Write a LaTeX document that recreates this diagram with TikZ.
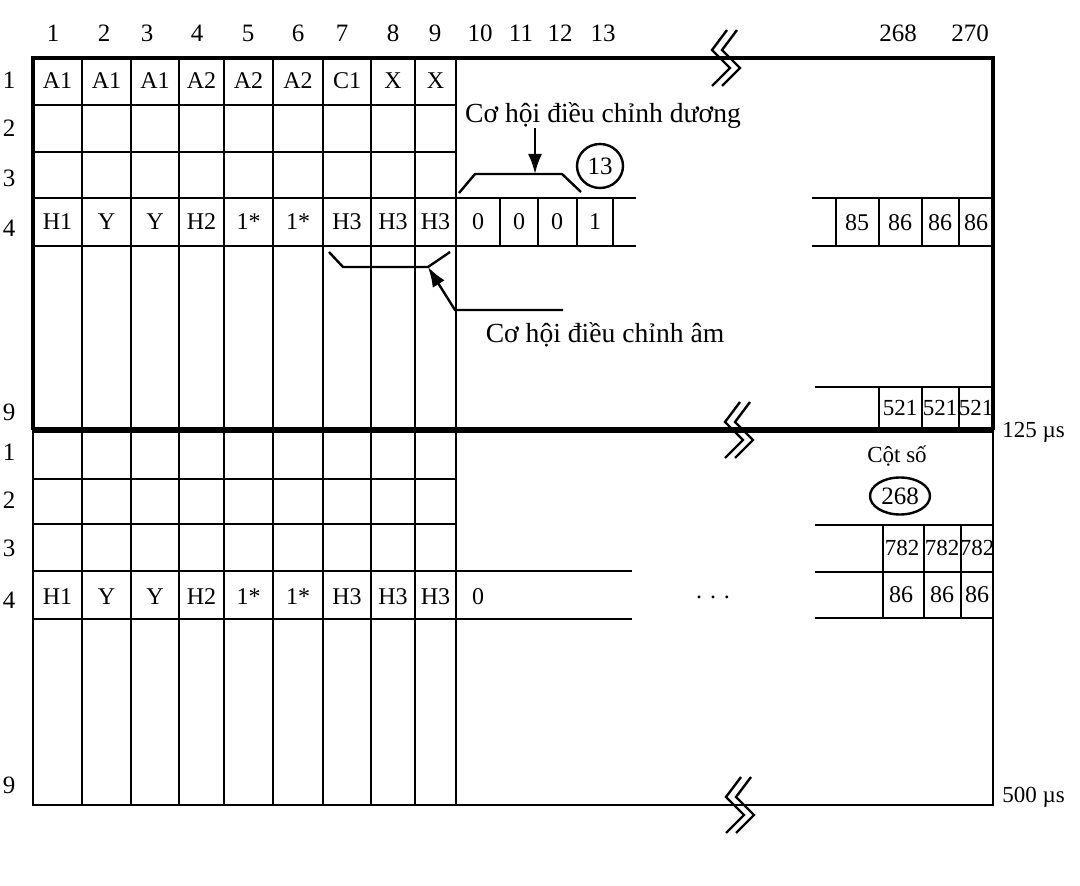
\documentclass[tikz,border=0pt]{standalone}
\usepackage{fontspec}
\setmainfont{Liberation Serif}
\usetikzlibrary{shapes.geometric, arrows.meta}
\tikzstyle{celltxt} = [inner sep=0pt, font=\fontsize{12}{14}\selectfont]
\tikzstyle{numtxt} = [inner sep=0pt, font=\fontsize{12.5}{15}\selectfont]
\tikzstyle{smalltxt} = [inner sep=0pt, font=\fontsize{11.5}{13}\selectfont]
\tikzstyle{notetxt} = [inner sep=0pt, font=\fontsize{13.8}{16}\selectfont]
\tikzstyle{ruleline} = [line width=1.2pt]
\tikzstyle{frameline} = [line width=1.8pt]
\tikzstyle{lowframe} = [line width=1.4pt]
\tikzstyle{midline} = [line width=2.8pt]
\tikzstyle{pointer} = [line width=1.2pt, -{Latex[length=10pt, width=7pt]}]
\tikzstyle{ring} = [ellipse, draw, line width=1.2pt, inner sep=0pt, font=\fontsize{12.5}{15}\selectfont]
\newcommand{\brkmark}[1]{\draw[ruleline, shift={#1}] (1,-28) -- (-14,-8) -- (4,10) -- (-14,28) (11,-28) -- (-4,-8) -- (14,10) -- (-4,28);}

\begin{document}
\begin{tikzpicture}[x=0.5pt, y=-0.5pt]
            \useasboundingbox (0,0) rectangle (1080,886);

            \foreach \x in {82,131,179,224,273,323,371,415,456} \draw[ruleline] (\x,58) -- (\x,805);
            \foreach \y in {105,152,479,524} \draw[ruleline] (33,\y) -- (456,\y);
            \foreach \y in {198,246} \draw[ruleline] (33,\y) -- (636,\y);
            \foreach \y in {571,619} \draw[ruleline] (33,\y) -- (632,\y);
            \foreach \x in {500,538,577,613} \draw[ruleline] (\x,198) -- (\x,246);
            \foreach \y in {198,246} \draw[ruleline] (812,\y) -- (993,\y);
            \foreach \x in {836,879,922,959} \draw[ruleline] (\x,198) -- (\x,246);
            \draw[ruleline] (815,387) -- (993,387);
            \foreach \x in {879,922,959} \draw[ruleline] (\x,387) -- (\x,430);
            \foreach \y in {525,572,618} \draw[ruleline] (815,\y) -- (993,\y);
            \foreach \x in {883,924,961} \draw[ruleline] (\x,525) -- (\x,618);

            \draw[frameline] (33,430) -- (33,58) -- (993,58) -- (993,430);
            \draw[lowframe] (33,430) -- (33,805) -- (993,805) -- (993,430);
            \draw[midline] (33,430) -- (993,430);

            \brkmark{(726,58)}
            \brkmark{(739,430)}
            \brkmark{(740,805)}

            \foreach \x/\n in {53/1,104/2,147/3,197/4,248/5,298/6,342/7,393/8,435/9,480/10,521/11,560/12,603/13,898/268,970/270}
                \node[numtxt] (c\n) at (\x,33) {\n};
            \foreach \y/\n [count=\i] in {80/1,128/2,178/3,228/4,412/9,452/1,500/2,548/3,600/4,785/9}
                \node[numtxt] (r\i) at (9,\y) {\n};

            \foreach \x/\t [count=\i] in {57.5/A1,106.5/A1,155/A1,201.5/A2,248.5/A2,298/A2,347/C1,393/X,435.5/X}
                \node[celltxt] (a\i) at (\x,81) {\t};
            \foreach \x/\t [count=\i] in {57.5/H1,106.5/Y,155/Y,201.5/H2,248.5/1*,298/1*,347/H3,393/H3,435.5/H3,478/0,519/0,557/0,595/1}
                \node[celltxt] (h\i) at (\x,222) {\t};
            \foreach \x/\t [count=\i] in {57.5/H1,106.5/Y,155/Y,201.5/H2,248.5/1*,298/1*,347/H3,393/H3,435.5/H3,478/0}
                \node[celltxt] (k\i) at (\x,597) {\t};

            \foreach \x/\t [count=\i] in {857/85,900/86,940/86,976/86}
                \node[celltxt] (p\i) at (\x,223) {\t};
            \foreach \x [count=\i] in {900,940,976}
                \node[smalltxt] (s\i) at (\x,408) {521};
            \foreach \x [count=\i] in {902,942,977}
                \node[smalltxt] (t\i) at (\x,548) {782};
            \foreach \x [count=\i] in {901,942,977}
                \node[celltxt] (u\i) at (\x,595) {86};

            \node[celltxt] (dots) at (713,597) {.\hspace{4pt}.\hspace{4pt}.};
            \node[smalltxt] (cot) at (897,456) {Cột số};
            \node[ring, minimum width=30pt, minimum height=18.5pt] (n268) at (900,496) {268};
            \node[smalltxt, anchor=west] (t125) at (1002,432) {125 µs};
            \node[smalltxt, anchor=west] (t500) at (1002,797) {500 µs};

            \node[notetxt] (pos) at (603,115) {Cơ hội điều chỉnh dương};
            \node[ring, minimum width=23pt, minimum height=22pt] (n13) at (600,166) {13};
            \coordinate (posbr) at (535,174);
            \draw[ruleline] (459,193) -- (475,174) -- (562,174) -- (581,192);
            \draw[pointer] (pos.south -| posbr) -- (posbr);

            \node[notetxt] (neg) at (605,335) {Cơ hội điều chỉnh âm};
            \coordinate (negbr) at (428,267);
            \coordinate (negknee) at (455,310);
            \coordinate (negend) at (563,310);
            \draw[ruleline] (329,252) -- (343,267) -- (428,267) -- (450,252);
            \draw[pointer] (negend) -- (negknee) -- (negbr);
        \end{tikzpicture}
\end{document}
